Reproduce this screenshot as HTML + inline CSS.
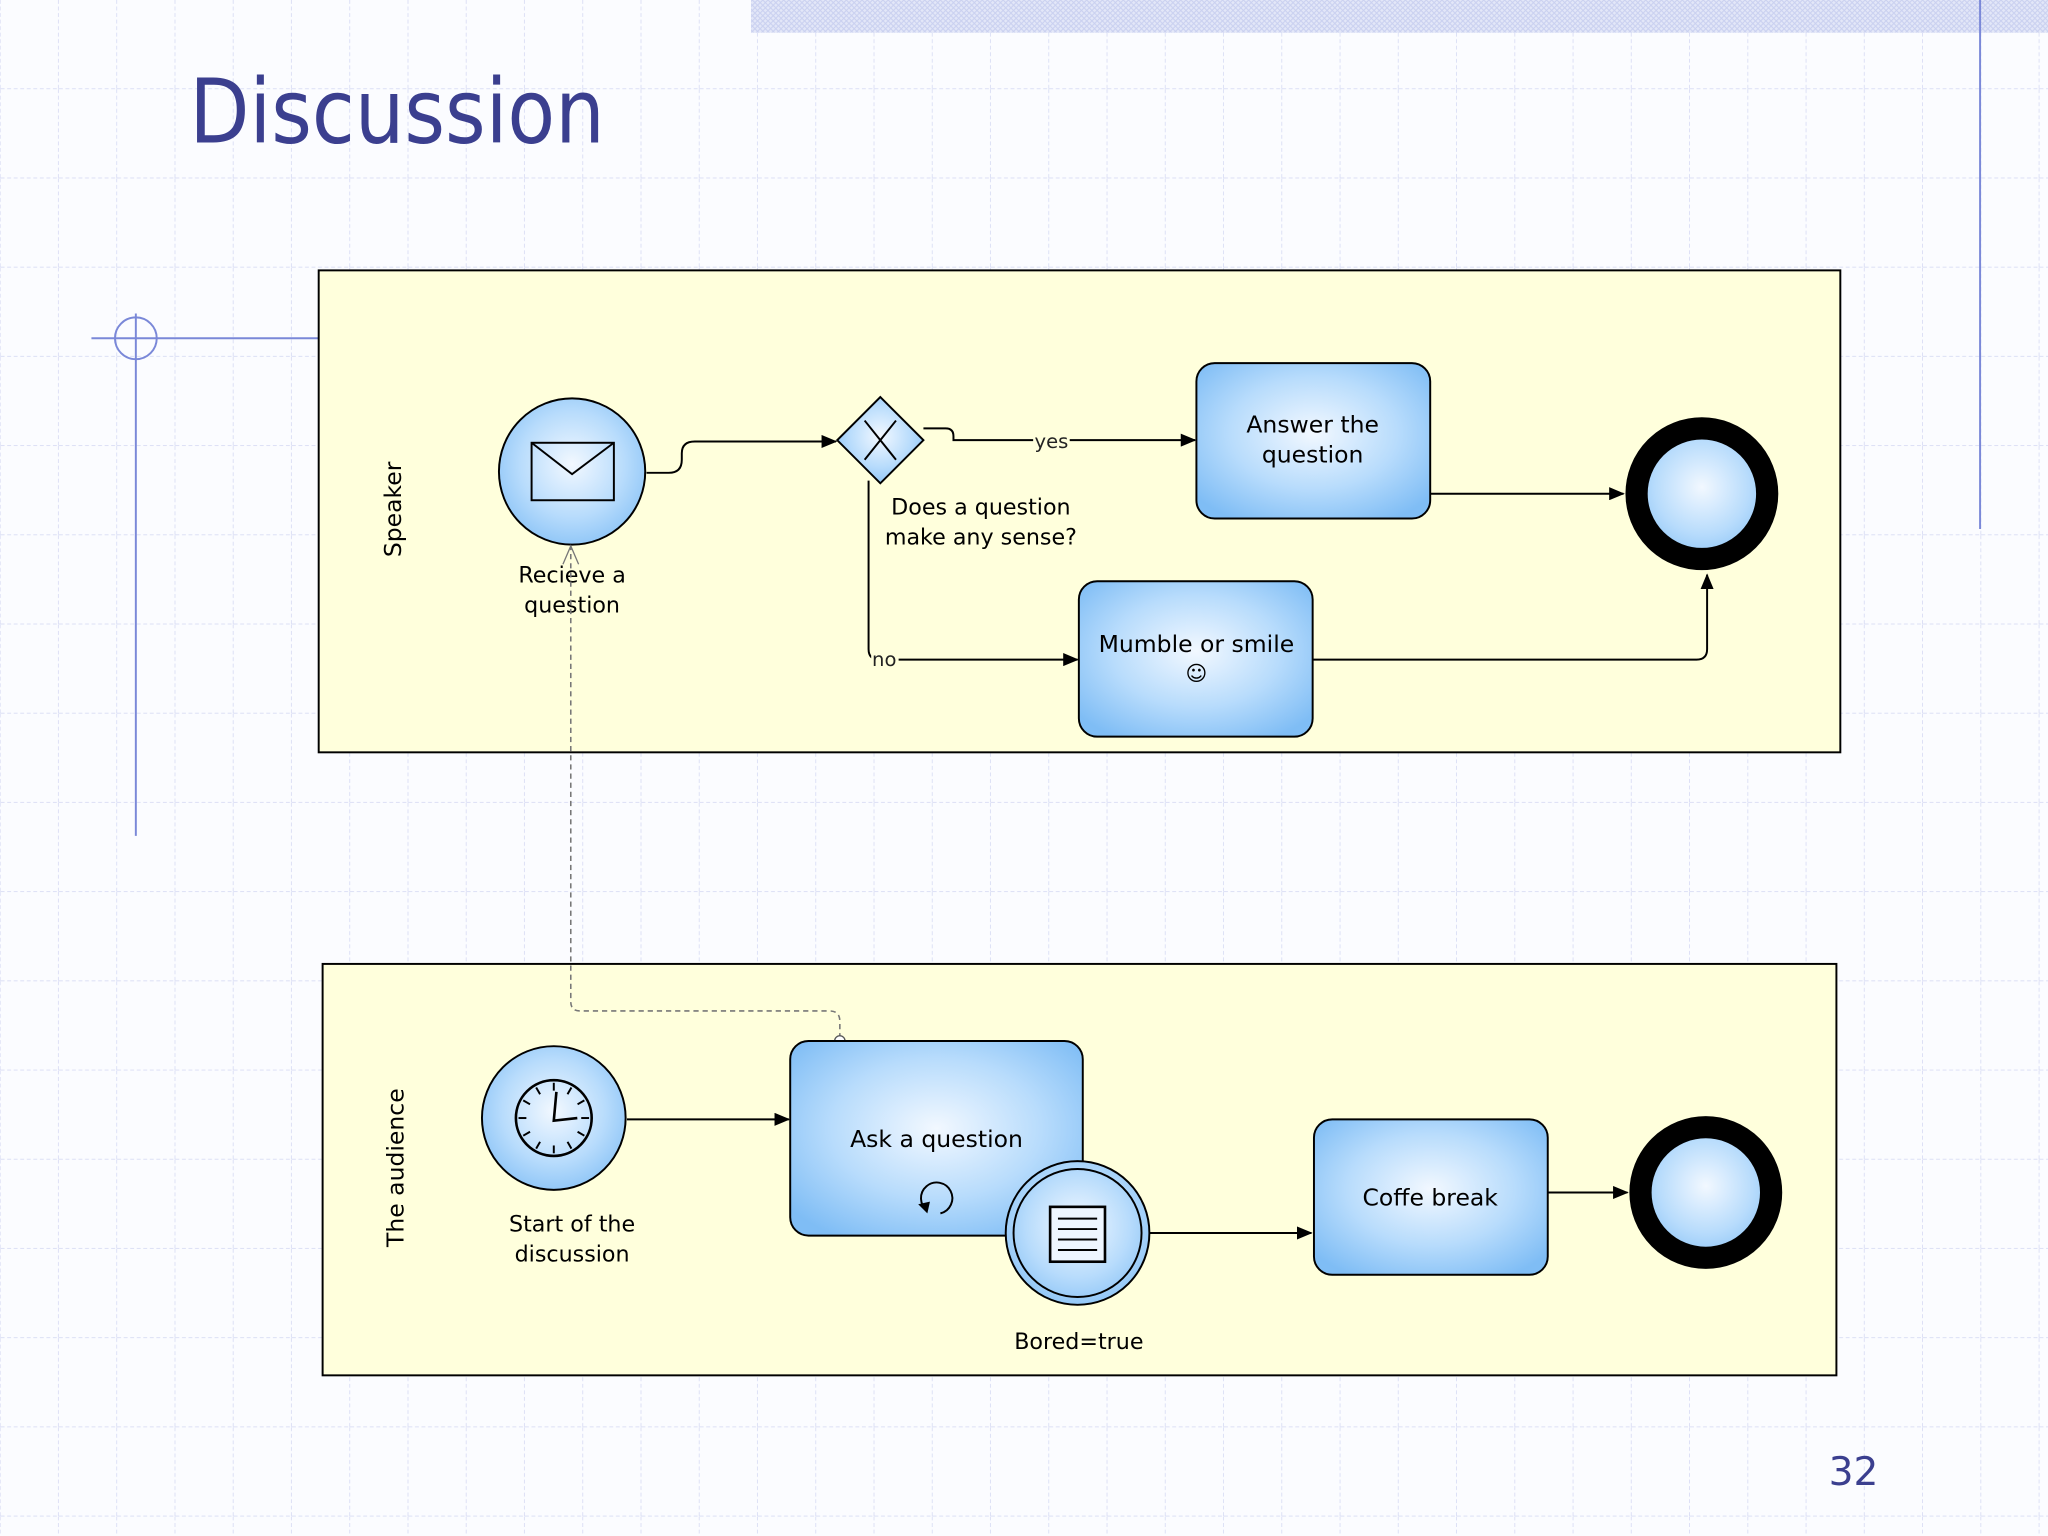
<!DOCTYPE html>
<html><head><meta charset="utf-8"><style>
html,body{margin:0;padding:0;background:#fff}
svg{display:block}
text{font-family:"DejaVu Sans","Liberation Sans",sans-serif}
</style></head><body>
<svg width="2048" height="1536" viewBox="0 0 1568 1176" xmlns="http://www.w3.org/2000/svg">
<defs>
<pattern id="grid" x="0" y="0" width="44.6" height="68.3" patternUnits="userSpaceOnUse" patternTransform="translate(0.5,0)">
<path d="M44.6 0V68.3M0 68.3H44.6" stroke="#d8dcf4" stroke-width="1.3" stroke-dasharray="3 2" fill="none"/>
</pattern>
<pattern id="hatch" width="4" height="4" patternUnits="userSpaceOnUse"><rect width="4" height="4" fill="#e3e7f8"/><path d="M0 4L4 0M0 0L4 4" stroke="#c9d0f0" stroke-width="0.8"/></pattern>
<radialGradient id="bl" cx="50%" cy="45%" r="65%"><stop offset="0" stop-color="#f2f8ff"/><stop offset="0.55" stop-color="#b8dcfc"/><stop offset="1" stop-color="#7fbdf5"/></radialGradient>
<marker id="ar" markerWidth="12" markerHeight="10" refX="11" refY="5" orient="auto" markerUnits="userSpaceOnUse"><path d="M0 0L12 5L0 10Z" fill="#000"/></marker>
</defs>
<rect width="1568" height="1176" fill="#fbfcff"/>
<rect width="1568" height="1176" fill="url(#grid)"/>
<rect x="575" y="0" width="993" height="25" fill="url(#hatch)"/>
<line x1="1516" y1="0" x2="1516" y2="405" stroke="#7a88d8" stroke-width="1.5"/>
<line x1="104" y1="240" x2="104" y2="640" stroke="#7a88d8" stroke-width="1.5"/>
<line x1="70" y1="259" x2="244" y2="259" stroke="#7a88d8" stroke-width="1.5"/>
<circle cx="104" cy="259" r="16" fill="none" stroke="#7a88d8" stroke-width="1.5"/>
<text x="145" y="109" font-size="68" fill="#3b3f8f" textLength="318" lengthAdjust="spacingAndGlyphs">Discussion</text>
<text x="1400" y="1137" font-size="30" fill="#3b3f8f">32</text>

<!-- pools -->
<rect x="244" y="207" width="1165" height="369" fill="#ffffdc" stroke="#000" stroke-width="1.5"/>
<rect x="247" y="738" width="1159" height="315" fill="#ffffdc" stroke="#000" stroke-width="1.5"/>
<text transform="translate(307,390) rotate(-90)" font-size="18" text-anchor="middle">Speaker</text>
<text transform="translate(309,894) rotate(-90)" font-size="18" text-anchor="middle">The audience</text>

<!-- speaker lane -->
<circle cx="438" cy="361" r="56" fill="url(#bl)" stroke="#000" stroke-width="1.5"/>
<rect x="407" y="339" width="63" height="44" fill="none" stroke="#000" stroke-width="1.5"/>
<path d="M407 339L438 363L470 339" fill="none" stroke="#000" stroke-width="1.5"/>
<text x="438" y="446" font-size="17" text-anchor="middle">Recieve a</text>
<text x="438" y="469" font-size="17" text-anchor="middle">question</text>

<path d="M495 362H512Q522 362 522 352V347Q522 338 532 338H640" fill="none" stroke="#000" stroke-width="1.5" marker-end="url(#ar)"/>
<path d="M674 304L707 337L674 370L641 337Z" fill="url(#bl)" stroke="#000" stroke-width="1.5"/>
<path d="M662 322L686 352M686 322L662 352" stroke="#000" stroke-width="1.5"/>
<text x="751" y="394" font-size="17" text-anchor="middle">Does a question</text>
<text x="751" y="417" font-size="17" text-anchor="middle">make any sense?</text>

<path d="M707 328H724Q730 328 730 334V337H915" fill="none" stroke="#000" stroke-width="1.5" marker-end="url(#ar)"/>
<rect x="791" y="329" width="28" height="16" fill="#ffffdc"/>
<text x="805" y="343" font-size="15" text-anchor="middle" fill="#222">yes</text>
<path d="M665 368V497Q665 505 673 505H825" fill="none" stroke="#000" stroke-width="1.5" marker-end="url(#ar)"/>
<rect x="667" y="497" width="21" height="16" fill="#ffffdc"/>
<text x="677" y="510" font-size="15" text-anchor="middle" fill="#222">no</text>

<rect x="916" y="278" width="179" height="119" rx="14" fill="url(#bl)" stroke="#000" stroke-width="1.5"/>
<text x="1005" y="331" font-size="18" text-anchor="middle">Answer the</text>
<text x="1005" y="354" font-size="18" text-anchor="middle">question</text>
<rect x="826" y="445" width="179" height="119" rx="14" fill="url(#bl)" stroke="#000" stroke-width="1.5"/>
<text x="916" y="499" font-size="18" text-anchor="middle">Mumble or smile</text>
<text x="916" y="521" font-size="16" text-anchor="middle">☺</text>

<path d="M1095 378H1243" fill="none" stroke="#000" stroke-width="1.5" marker-end="url(#ar)"/>
<path d="M1005 505H1299Q1307 505 1307 497V440" fill="none" stroke="#000" stroke-width="1.5" marker-end="url(#ar)"/>
<circle cx="1303" cy="378" r="50" fill="url(#bl)" stroke="#000" stroke-width="17"/>

<!-- message flow -->
<path d="M643 795V782Q643 774 635 774H444Q437 774 437 767V418" fill="none" stroke="#777" stroke-width="1.2" stroke-dasharray="4 3"/>
<path d="M431 432L437 418L443 432" fill="none" stroke="#777" stroke-width="1"/>
<circle cx="643" cy="797" r="4" fill="#fff" stroke="#555"/>

<!-- audience lane -->
<circle cx="424" cy="856" r="55" fill="url(#bl)" stroke="#000" stroke-width="1.5"/>
<circle cx="424" cy="856" r="29" fill="none" stroke="#000" stroke-width="2"/>
<g stroke="#000" stroke-width="1.5">
<line x1="424" y1="829" x2="424" y2="835"/><line x1="424" y1="877" x2="424" y2="883"/>
<line x1="397" y1="856" x2="403" y2="856"/><line x1="445" y1="856" x2="451" y2="856"/>
<line x1="437.5" y1="832.6" x2="434.5" y2="837.8"/><line x1="447.4" y1="842.5" x2="442.2" y2="845.5"/>
<line x1="447.4" y1="869.5" x2="442.2" y2="866.5"/><line x1="437.5" y1="879.4" x2="434.5" y2="874.2"/>
<line x1="410.5" y1="879.4" x2="413.5" y2="874.2"/><line x1="400.6" y1="869.5" x2="405.8" y2="866.5"/>
<line x1="400.6" y1="842.5" x2="405.8" y2="845.5"/><line x1="410.5" y1="832.6" x2="413.5" y2="837.8"/>
<path d="M426 836L424 858L442 856" fill="none" stroke-width="2"/>
</g>
<text x="438" y="943" font-size="17" text-anchor="middle">Start of the</text>
<text x="438" y="966" font-size="17" text-anchor="middle">discussion</text>
<path d="M480 857H604" fill="none" stroke="#000" stroke-width="1.5" marker-end="url(#ar)"/>

<rect x="605" y="797" width="224" height="149" rx="14" fill="url(#bl)" stroke="#000" stroke-width="1.5"/>
<text x="717" y="878" font-size="18" text-anchor="middle">Ask a question</text>
<path d="M710 927A12 12 0 1 1 720 929" fill="none" stroke="#000" stroke-width="1.5"/>
<path d="M703 922L710 929L712 920Z" fill="#000"/>
<circle cx="825" cy="944" r="55" fill="url(#bl)" stroke="#000" stroke-width="1.5"/>
<circle cx="825" cy="944" r="49" fill="none" stroke="#000" stroke-width="1.5"/>
<rect x="804" y="924" width="42" height="42" fill="#eef6ff" stroke="#000" stroke-width="2"/>
<g stroke="#000" stroke-width="1.5"><line x1="810" y1="933" x2="840" y2="933"/><line x1="810" y1="941" x2="840" y2="941"/><line x1="810" y1="949" x2="840" y2="949"/><line x1="810" y1="957" x2="840" y2="957"/></g>
<text x="826" y="1033" font-size="17" text-anchor="middle">Bored=true</text>
<path d="M880 944H1004" fill="none" stroke="#000" stroke-width="1.5" marker-end="url(#ar)"/>

<rect x="1006" y="857" width="179" height="119" rx="14" fill="url(#bl)" stroke="#000" stroke-width="1.5"/>
<text x="1095" y="923" font-size="18" text-anchor="middle">Coffe break</text>
<path d="M1185 913H1246" fill="none" stroke="#000" stroke-width="1.5" marker-end="url(#ar)"/>
<circle cx="1306" cy="913" r="50" fill="url(#bl)" stroke="#000" stroke-width="17"/>
</svg>
</body></html>
